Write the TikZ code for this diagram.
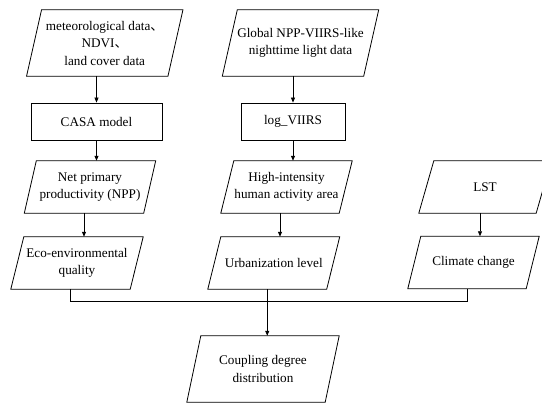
\documentclass[tikz,border=0pt]{standalone}
\usepackage{fontspec}
\setmainfont{Liberation Serif}
\newfontfamily\cjk{Noto Sans CJK SC}
\usetikzlibrary{calc,arrows.meta}
\newcommand\drawpara[2]{%
  \draw[line] ([xshift=#2pt]#1.north west) -- ([xshift=#2pt]#1.north east)
    -- ([xshift=-#2pt]#1.south east) -- ([xshift=-#2pt]#1.south west) -- cycle;
  \coordinate (#1-t) at ([xshift=#2pt]#1.north);
  \coordinate (#1-b) at ([xshift=-#2pt]#1.south);}
\begin{document}
\begin{tikzpicture}[x=1pt,y=-1pt,
  txt/.style={font=\fontsize{13.2}{17.5}\selectfont, align=center, inner sep=0pt},
  para/.style={txt, minimum width=#1, minimum height=52pt},
  rectbox/.style={txt, draw, line width=0.8pt, minimum height=37pt},
  line/.style={line width=0.8pt},
  arr/.style={line, -{Triangle[length=5pt,width=4pt]}}]
\useasboundingbox (0,0) rectangle (542,406);

\node[para=141pt, minimum height=66pt] (met) at (104.75,43) {meteorological data{\cjk 、}\\NDVI{\cjk 、}\\land cover data};
\drawpara{met}{7.5}
\node[rectbox, minimum width=131pt] (casa) at (96.5,121.5) {CASA model};
\node[para=119pt] (npp) at (90,187) {Net primary\\productivity (NPP)};
\drawpara{npp}{6}
\node[para=119pt] (eco) at (77,263) {Eco-environmental\\quality};
\drawpara{eco}{6.5}

\node[para=141pt, minimum height=66pt] (glob) at (300.5,43) {Global NPP-VIIRS-like\\nighttime light data};
\drawpara{glob}{7.5}
\node[rectbox, minimum width=104pt] (log) at (293,121.5) {log\_VIIRS};
\node[para=118pt] (hi) at (286.5,187) {High-intensity\\human activity area};
\drawpara{hi}{6.5}
\node[para=118.5pt] (urb) at (273.75,263) {Urbanization level};
\drawpara{urb}{6.5}

\node[para=117pt] (lst) at (485,187) {LST};
\drawpara{lst}{7.5}
\node[para=118pt] (clim) at (473.5,262.5) {Climate change};
\drawpara{clim}{6.5}

\node[para=138pt, minimum height=66pt] (coup) at (263,369) {Coupling degree\\distribution};
\drawpara{coup}{7}

\draw[arr] (casa.north |- met-b) -- (casa.north);
\draw[arr] (casa.south) -- (casa.south |- npp-t);
\draw[arr] (npp-b) -- (npp-b |- eco-t);
\draw[arr] (glob-b) -- (log.north);
\draw[arr] (log.south) -- (log.south |- hi-t);
\draw[arr] (hi-b) -- (hi-b |- urb-t);
\draw[arr] (clim-t |- lst-b) -- (clim-t);
\coordinate (bus) at ($(urb-b)+(0,12)$);
\draw[line] (eco-b) |- (bus) -| (clim-b);
\draw[arr] (urb-b) -- (urb-b |- coup.north);
\end{tikzpicture}
\end{document}
